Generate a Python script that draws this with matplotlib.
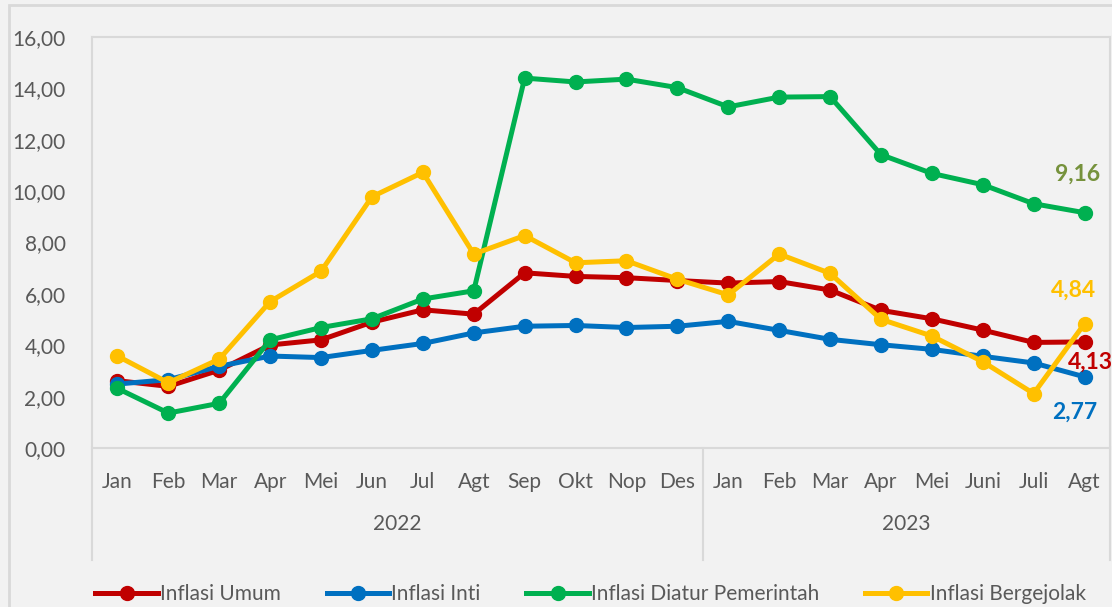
import matplotlib.pyplot as plt
from matplotlib.patches import Rectangle
from matplotlib.lines import Line2D
from matplotlib.transforms import blended_transform_factory

months = ['Jan', 'Feb', 'Mar', 'Apr', 'Mei', 'Jun', 'Jul', 'Agt', 'Sep', 'Okt', 'Nop', 'Des',
          'Jan', 'Feb', 'Mar', 'Apr', 'Mei', 'Juni', 'Juli', 'Agt']
years = ['2022', '2023']

umum = [2.62, 2.40, 3.03, 4.01, 4.21, 4.90, 5.38, 5.21, 6.82, 6.68, 6.63, 6.52,
        6.42, 6.48, 6.15, 5.36, 5.03, 4.59, 4.11, 4.13]
inti = [2.49, 2.66, 3.18, 3.58, 3.52, 3.80, 4.07, 4.48, 4.74, 4.77, 4.69, 4.74,
        4.93, 4.58, 4.23, 4.02, 3.84, 3.57, 3.31, 2.77]
diatur = [2.32, 1.36, 1.74, 4.21, 4.69, 5.03, 5.80, 6.12, 14.40, 14.25, 14.36, 14.03,
          13.28, 13.66, 13.68, 11.42, 10.69, 10.25, 9.51, 9.16]
gejolak = [3.58, 2.54, 3.46, 5.70, 6.88, 9.78, 10.73, 7.55, 8.27, 7.21, 7.29, 6.57,
           5.96, 7.55, 6.80, 5.01, 4.36, 3.36, 2.12, 4.84]

names = ['Inflasi Umum', 'Inflasi Inti', 'Inflasi Diatur Pemerintah', 'Inflasi Bergejolak']
colors = ['#C00000', '#0070C0', '#00B050', '#FFC000']
label_colors = ['#C00000', '#0070C0', '#76923C', '#FFC000']

plt.rcParams['font.family'] = ['Lato', 'DejaVu Sans']
txt = '#595959'
grey = '#D9D9D9'
fs = 15

fig = plt.figure(figsize=(11.12, 6.07), dpi=100, facecolor='#F2F2F2')
W, H = 1112, 607
fig.patches.append(Rectangle((9 / W, -0.1), 1.2, 1 - 5 / H + 0.1, transform=fig.transFigure,
                             fill=False, edgecolor=grey, lw=2))

ax = fig.add_axes([92 / W, (H - 448) / H, 1018 / W, 411 / H])
ax.set_facecolor('#F2F2F2')

x = list(range(len(months)))
series = [umum, inti, diatur, gejolak]
for s, c, n in zip(series, colors, names):
    ax.plot(x, s, color=c, lw=3.6, marker='o', ms=10, label=n, solid_joinstyle='round')

# end labels
offsets = [(6, -20), (-10, -35), (-7, 38), (-11, 33)]
for s, c, off in zip(series, label_colors, offsets):
    ax.annotate(f'{s[-1]:.2f}'.replace('.', ','), (x[-1], s[-1]), xytext=off,
                textcoords='offset pixels', ha='center', va='center',
                color=c, fontsize=16.5, fontweight='bold')

ax.set_xlim(-0.5, len(months) - 0.5)
ax.set_ylim(0, 16)
ax.set_yticks(range(0, 17, 2))
ax.set_yticklabels([f'{v},00' for v in range(0, 17, 2)])
ax.set_xticks(x)
ax.set_xticklabels(months)
ax.tick_params(length=0, colors=txt, labelsize=fs)
ax.tick_params(axis='x', pad=17)
ax.tick_params(axis='y', pad=19)
for sp in ax.spines.values():
    sp.set_color(grey)
    sp.set_linewidth(1.5)

# multi-level category axis
tr = blended_transform_factory(ax.transData, ax.transAxes)
depth = -112 / 411
for xs in [-0.5, 11.5, len(months) - 0.5]:
    ax.add_line(Line2D([xs, xs], [0, depth], transform=tr, color=grey, lw=1.5, clip_on=False))
ax.text(5.5, -76 / 411, years[0], transform=tr, ha='center', va='center', color=txt, fontsize=fs)
ax.text(15.5, -76 / 411, years[1], transform=tr, ha='center', va='center', color=txt, fontsize=fs)

fig.legend(loc='center', bbox_to_anchor=(0.531, 13 / H), ncol=4, frameon=False,
           fontsize=fs, handlelength=3.0, columnspacing=2.2, handletextpad=0.1,
           labelcolor=txt)

fig.savefig('out.png', dpi=100, facecolor=fig.get_facecolor())
